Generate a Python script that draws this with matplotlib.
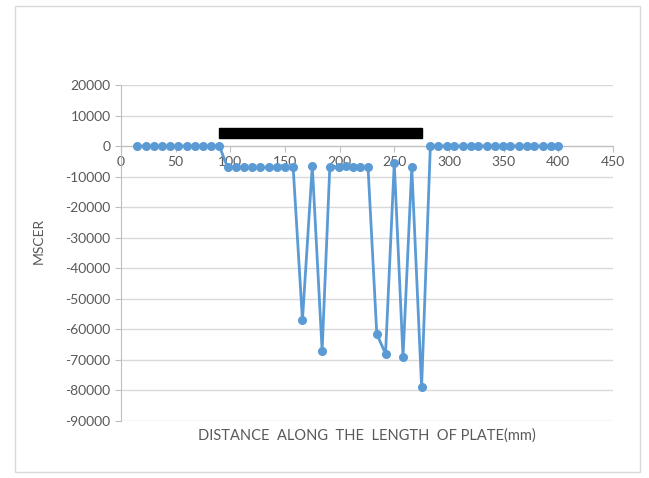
import matplotlib.pyplot as plt
from matplotlib.patches import Rectangle

# distance along the plate (mm) and MSCER readings
distance = [15, 22.5, 30, 37.5, 45, 52.5, 60, 67.5, 75, 82.5, 90,
            97.5, 105, 112.5, 120, 127.5, 135, 142.5, 150, 157.5,
            166, 175, 184, 191, 199, 206, 212, 219, 226, 234, 242, 250, 258, 266, 275,
            283, 290, 298, 305, 313, 320, 327, 335, 342, 349, 356, 364, 371, 378, 386, 393, 400]
mscer = [0] * 11 + [-7000] * 9 + \
        [-57000, -6500, -67000, -7000, -7000, -6500, -7000, -7000, -7000,
         -61500, -68000, -5500, -69000, -7000, -79000] + [0] * 17

# plate position marker
plate_x = [90, 275]
plate_y = [2600, 5800]

x_ticks = [0, 50, 100, 150, 200, 250, 300, 350, 400, 450]
y_ticks = list(range(-90000, 20001, 10000))

plt.rcParams['font.family'] = ['Lato', 'DejaVu Sans']
plt.rcParams['axes.unicode_minus'] = False
grey = '#595959'

fig = plt.figure(figsize=(6.49, 4.78), dpi=100)
ax = fig.add_axes([0.1864, 0.1192, 0.758, 0.703])

# outer chart border
fig.patches.append(Rectangle((15 / 649, 6 / 478), 625 / 649, 466 / 478,
                             transform=fig.transFigure, fill=False,
                             edgecolor='#d9d9d9', linewidth=1))

ax.plot(distance, mscer, color='#5B9BD5', linewidth=2, marker='o',
        markersize=5.5, zorder=3)

ax.add_patch(Rectangle((plate_x[0], plate_y[0]), plate_x[1] - plate_x[0],
                       plate_y[1] - plate_y[0], facecolor='black',
                       edgecolor='black', zorder=4))

ax.set_xlim(0, 450)
ax.set_ylim(-90000, 20000)
ax.set_xticks(x_ticks)
ax.set_yticks(y_ticks)
ax.grid(axis='y', color='#d9d9d9', linewidth=1)
ax.set_axisbelow(True)

for s in ['top', 'right']:
    ax.spines[s].set_visible(False)
ax.spines['bottom'].set_position(('data', 0))
ax.spines['bottom'].set_color('#bfbfbf')
ax.spines['left'].set_color('#bfbfbf')
ax.tick_params(axis='both', colors='#bfbfbf', labelcolor=grey, labelsize=10,
               length=4, direction='out')
ax.tick_params(axis='x', pad=3)

ax.set_ylabel('MSCER', color=grey, fontsize=10)
ax.yaxis.set_label_coords(-0.155, 0.535)
fig.text(0.5655, 1 - 436 / 478, 'DISTANCE  ALONG  THE  LENGTH  OF PLATE(mm)',
         ha='center', va='center', color=grey, fontsize=10.5)

fig.savefig('out.png', dpi=100)
